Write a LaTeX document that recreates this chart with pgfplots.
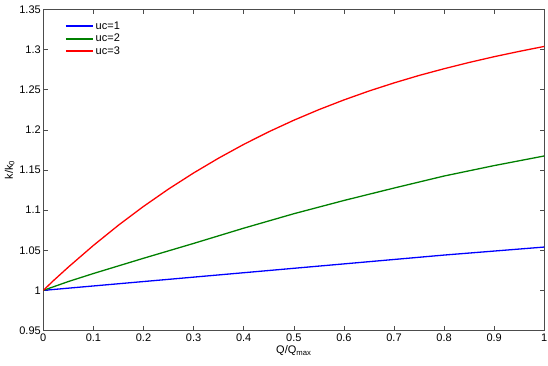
\documentclass[border=0pt]{standalone}
\usepackage{pgfplots}
\pgfplotsset{compat=1.18}
\usepackage{fontspec}
\setmainfont{Liberation Sans}
\definecolor{mgreen}{rgb}{0,0.5,0}
\definecolor{axgray}{rgb}{0.3,0.3,0.3}
\begin{document}
\begin{tikzpicture}[x=1pt,y=1pt]
\begin{axis}[
  scale only axis, width=501pt, height=321pt,
  xmin=0, xmax=1, ymin=0.95, ymax=1.35,
  xtick={0,0.1,...,1.0}, ytick={0.95,1,1.05,1.1,1.15,1.2,1.25,1.3,1.35},
  xticklabels={0,0.1,0.2,0.3,0.4,0.5,0.6,0.7,0.8,0.9,1},
  yticklabels={0.95,1,1.05,1.1,1.15,1.2,1.25,1.3,1.35},
  tick align=inside, major tick length=4.5pt,
  axis line style={axgray, line width=0.8pt},
  every tick/.style={axgray, line width=0.6pt},
  tick label style={font=\fontsize{11}{13}\selectfont, text=black},
  yticklabel style={xshift=1pt},
  /pgf/number format/assume math mode=true,
  xlabel={Q/Q\textsubscript{max}}, ylabel={k/k\textsubscript{0}},
  label style={font=\fontsize{11}{13}\selectfont},
  xlabel style={yshift=3pt},
  ylabel style={yshift=-2pt},
  every axis plot/.append style={line width=1.3pt, line join=round},
  legend style={draw=none, fill=none, at={(0.037,0.975)}, anchor=north west,
    font=\fontsize{11}{13}\selectfont, row sep=-0.7pt,
    legend cell align=left},
  legend image code/.code={\draw[#1, line width=1.7pt] (0pt,0pt) -- (27pt,0pt);},
]
\addplot[blue] coordinates {
(0,1) (0.1,1.0055) (0.2,1.011) (0.3,1.0165) (0.4,1.022) (0.5,1.0275)
(0.6,1.033) (0.7,1.0385) (0.8,1.0440) (0.9,1.049) (1.0,1.054)};
\addlegendentry{uc=1}
\addplot[mgreen] coordinates {
(0,1) (0.05,1.011) (0.1,1.021) (0.2,1.040) (0.3,1.0585) (0.4,1.0775) (0.5,1.0955)
(0.6,1.112) (0.7,1.1275) (0.8,1.1425) (0.9,1.1555) (1.0,1.1675)};
\addlegendentry{uc=2}
\addplot[red] coordinates {
(0,1) (0.02,1.012) (0.05,1.029) (0.1,1.056) (0.15,1.0812) (0.2,1.1046) (0.25,1.1263) (0.3,1.1463) (0.35,1.1648) (0.4,1.1819)
(0.45,1.1976) (0.5,1.212) (0.55,1.2252) (0.6,1.2373) (0.65,1.2484) (0.7,1.2585) (0.75,1.2678) (0.8,1.2762) (0.85,1.284) (0.9,1.2912) (0.95,1.2978) (1.0,1.304)};
\addlegendentry{uc=3}
\end{axis}
\pgfresetboundingbox
\path[use as bounding box] (-43.3pt,-35.5pt) rectangle (504.7pt,330.5pt);
\end{tikzpicture}
\end{document}
